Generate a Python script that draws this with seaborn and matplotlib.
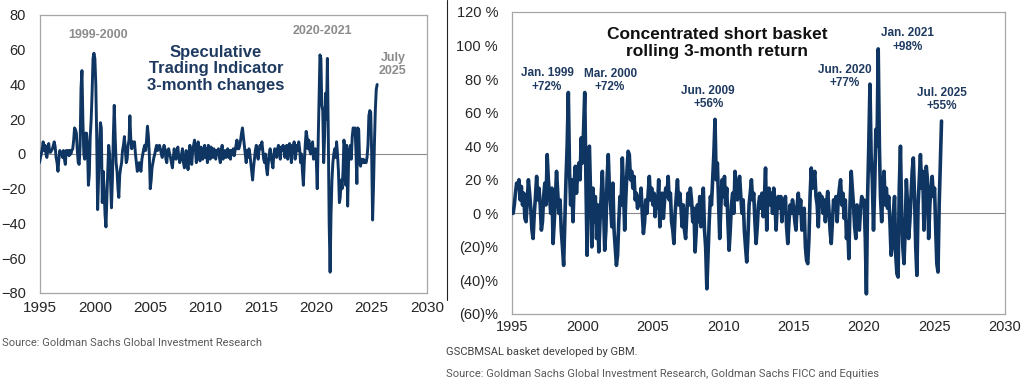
import matplotlib
matplotlib.use('Agg')
from matplotlib import pyplot as plt
from matplotlib.lines import Line2D
from matplotlib.ticker import FuncFormatter
import pandas as pd
import seaborn as sns

# Speculative Trading Indicator, 3-month changes (monthly, Jan 1995 - Jul 2025)
spec_changes = [
    -5, -2, 0, 3, 7, 2, 5, 0, -2, 4, 6, 1,            # 1995
    1, 2, 3, 5, 7, 4, -2, -5, -10, -3, 2, 0,          # 1996
    1, -2, 2, -3, -6, 2, 0, 2, -1, 2, 0, 2,           # 1997
    3, 8, 15, 14, 12, 2, -5, -6, 5, 38, 48, 20,       # 1998
    0, -3, 12, 12, 5, -18, -12, 10, 20, 35, 55, 58,   # 1999
    55, 40, 10, -32, -15, 5, 18, 15, -28, -10, -20, -35,  # 2000
    -42, -25, -10, 5, 0, -15, -31, -15, 10, 28, 10, -5,   # 2001
    -10, -20, -25, -12, -8, -5, 2, 5, 10, 3, -5, -3,  # 2002
    5, 8, 22, 8, 3, 7, 5, 7, 0, -5, -10, -8,          # 2003
    -5, -8, -10, -3, 0, 3, 5, 2, 8, 16, 10, 0,        # 2004
    -20, -15, -8, -5, -2, 0, 3, 5, 2, 4, 5, 3,        # 2005
    0, -2, 2, 5, 3, -3, -5, 2, 3, 0, -2, -5,          # 2006
    -8, -2, 3, 0, -3, 2, 4, -2, -5, -3, 0, 3,         # 2007
    -5, -8, -3, 2, -5, -9, -3, 5, -2, -6, 2, 5,       # 2008
    8, 2, -5, 3, 7, 0, -4, 4, 2, -3, 2, 5,            # 2009
    -2, 3, -5, 5, 2, -3, 4, 0, -2, 3, 1, -3,          # 2010
    2, 0, 3, -2, -5, 2, 5, -3, 0, 2, -2, 0,           # 2011
    3, -2, 2, -3, 2, 0, 3, -1, 2, 5, 8, 3,            # 2012
    3, 5, 8, 12, 15, 10, 5, 0, -5, 2, -2, 3,          # 2013
    0, -5, -10, -15, -8, -3, 2, 5, 0, -3, 2, 5,       # 2014
    3, 7, 2, -3, -5, 0, -8, -12, -5, 0, 3, -2,        # 2015
    -5, -8, 0, 3, 2, -2, 3, 5, 0, -3, 4, 2,           # 2016
    5, 3, -2, 2, 5, -3, 3, 6, 2, -5, 5, 3,            # 2017
    7, -3, 0, 5, 2, 7, 3, -5, 0, -10, -18, -5,        # 2018
    5, 13, 10, 3, 8, 2, 0, 5, 7, -3, 2, 3,            # 2019
    -3, -20, 5, 30, 57, 55, 28, 25, -5, 10, 35, 20,   # 2020
    55, 10, -40, -68, -35, -15, -5, 0, 3, -2, 7, 0,   # 2021
    -10, -28, -25, -15, -20, -10, 8, 3, -18, 5, -30, -5,  # 2022
    2, 5, -3, 10, 15, 14, 15, 2, -17, 15, 14, -5,     # 2023
    -7, -3, -5, -3, -5, -4, -5, -2, 5, 22, 25, 24,    # 2024
    0, -38, -20, 5, 25, 37, 40,                       # 2025
]

# Concentrated short basket, rolling 3-month return in % (monthly)
short_returns = [
    0, 0, 5, 12, 18, 15, 20, 8, 16, 5, 12, -3,        # 1995
    -5, 8, 20, 12, 3, -10, -15, 0, 10, 22, 8, 15,     # 1996
    5, -10, -5, 10, 18, 5, 35, 20, 10, 0, 15, -18,    # 1997
    -5, 10, 25, 12, 0, 8, -10, -20, -31, -5, 20, 40,  # 1998
    72, 25, 5, 20, -5, 18, 28, 12, 25, 30, 20, 45,    # 1999
    30, 50, 72, 20, -25, 38, 40, 10, -20, 15, -5, 10, # 2000
    -15, 5, -23, -5, 10, 25, 5, -22, -10, 20, 35, 15, # 2001
    5, -8, 18, -10, -20, -31, -25, -5, 10, 5, 33, 15, # 2002
    -10, 10, 25, 37, 35, 20, 25, 15, 22, 8, 12, 3,    # 2003
    10, 5, 15, 0, -12, -5, 8, 0, 12, 22, 8, 15,       # 2004
    5, 12, -2, 10, 3, 20, -8, 5, 12, -3, 8, 15,       # 2005
    10, 22, 8, 12, -5, -10, -18, 0, 10, 20, 5, 12,    # 2006
    3, -8, 5, -10, -15, 0, 12, 5, 15, 8, -5, 3,       # 2007
    -23, -10, 5, -5, 10, -8, 3, 15, -10, -20, -45, -25,  # 2008
    -5, 10, 5, 20, 35, 56, 20, 30, 8, -15, 5, 20,     # 2009
    10, 22, 5, 15, -5, -22, -10, 5, 12, 0, 25, 15,    # 2010
    8, 18, 22, 10, 0, 8, -10, -20, -29, -15, 5, 12,   # 2011
    20, 8, 12, -5, -18, -8, 5, 10, 3, 12, -2, 8,      # 2012
    27, -10, 10, 15, 5, 12, 0, 15, 8, -10, 5, 10,     # 2013
    3, 10, -5, 8, 0, 10, -8, -18, -5, 5, 0, 8,        # 2014
    3, -5, -10, 5, 12, 0, 8, -10, -5, 3, -20, -28,    # 2015
    -30, -15, 10, 27, 15, 20, 25, 10, 5, -8, 12, 5,   # 2016
    10, 0, 8, -5, 5, 13, 3, -10, -18, -5, 8, 3,       # 2017
    10, -5, 8, 15, 20, 5, 12, -3, 8, -15, -5, -27,    # 2018
    5, 25, 15, 5, -8, -15, 5, -5, -10, 3, 10, 5,      # 2019
    8, -15, -48, 10, 40, 77, 35, 20, -10, 15, 50, 40, # 2020
    98, 40, 10, -5, 15, 25, 5, 15, 3, 10, -5, -25,    # 2021
    -20, 0, 10, -25, -36, -38, 15, 40, 0, -20, -30, -10,  # 2022
    20, 5, -15, -5, 10, 25, 33, 10, -20, -37, 5, 20,  # 2023
    35, 15, 25, -10, 10, 28, 20, -15, 5, 15, 22, 10,  # 2024
    15, -10, -30, -35, 5, 30, 55,                     # 2025
]

year_ticks = [1995, 2000, 2005, 2010, 2015, 2020, 2025, 2030]
left_yticks = [-80, -60, -40, -20, 0, 20, 40, 60, 80]
right_yticks = [-60, -40, -20, 0, 20, 40, 60, 80, 100, 120]

peak_labels = [
    ('Jan. 1999\n+72%', 0.071, 0.775),
    ('Mar. 2000\n+72%', 0.199, 0.773),
    ('Jun. 2009\n+56%', 0.398, 0.717),
    ('Jun. 2020\n+77%', 0.675, 0.786),
    ('Jan. 2021\n+98%', 0.803, 0.907),
    ('Jul. 2025\n+55%', 0.872, 0.710),
]

spec_df = pd.DataFrame({
    'date': pd.date_range('1995-01-01', periods=len(spec_changes), freq='MS'),
    'value': spec_changes,
})
short_df = pd.DataFrame({
    'date': pd.date_range('1995-01-01', periods=len(short_returns), freq='MS'),
    'value': short_returns,
})

navy = '#0f3562'
frame = '#a6a6a6'

sns.set_theme(style='white')
plt.rcParams['font.family'] = ['Liberation Sans', 'DejaVu Sans']

fig = plt.figure(figsize=(10.24, 3.84), dpi=100)
ax1 = fig.add_axes([0.0386, 0.237, 0.3784, 0.724])
ax2 = fig.add_axes([0.5, 0.1823, 0.4814, 0.7865])

tick_dates = [pd.Timestamp(f'{y}-01-01') for y in year_ticks]

for ax in (ax1, ax2):
    ax.axhline(0, color='#8c8c8c', lw=0.8, zorder=1)
    ax.set_xlim(tick_dates[0], tick_dates[-1])
    ax.set_xticks(tick_dates)
    ax.set_xticklabels([str(y) for y in year_ticks])
    for s in ax.spines.values():
        s.set_color(frame)
        s.set_linewidth(0.9)
    ax.tick_params(length=0, colors='#262626')

# left: speculative trading indicator
sns.lineplot(data=spec_df, x='date', y='value', ax=ax1, color=navy, linewidth=2.1, zorder=3)
ax1.set_ylim(-80, 80)
ax1.set_yticks(left_yticks)
ax1.tick_params(axis='y', labelsize=10.5, pad=10)
ax1.tick_params(axis='x', labelsize=11, pad=6)
ax1.set_xlabel('')
ax1.set_ylabel('')

ax1.text(0.455, 0.806, 'Speculative\nTrading Indicator\n3-month changes', transform=ax1.transAxes,
         ha='center', va='center', fontsize=12, fontweight='bold', color='#1f3a60', linespacing=1.1)
ax1.text(0.151, 0.928, '1999-2000', transform=ax1.transAxes, ha='center', va='center',
         fontsize=9, fontweight='bold', color='#8c8c8c')
ax1.text(0.729, 0.942, '2020-2021', transform=ax1.transAxes, ha='center', va='center',
         fontsize=9, fontweight='bold', color='#8c8c8c')
ax1.text(0.912, 0.822, 'July\n2025', transform=ax1.transAxes, ha='center', va='center',
         fontsize=9, fontweight='bold', color='#8c8c8c', linespacing=1.15)

# right: concentrated short basket
sns.lineplot(data=short_df, x='date', y='value', ax=ax2, color=navy, linewidth=2.6, zorder=3)
ax2.set_ylim(-60, 120)
ax2.set_yticks(right_yticks)
ax2.yaxis.set_major_formatter(FuncFormatter(
    lambda v, p: f'{int(v)} %' if v >= 0 else f'({int(-v)})%'))
ax2.tick_params(axis='y', labelsize=10.5, pad=10)
ax2.tick_params(axis='x', labelsize=10.5, pad=4)
ax2.set_xlabel('')
ax2.set_ylabel('')

ax2.text(0.416, 0.897, 'Concentrated short basket\nrolling 3-month return', transform=ax2.transAxes,
         ha='center', va='center', fontsize=12.5, fontweight='bold', color='#111111', linespacing=1.1)
for txt, fx, fy in peak_labels:
    ax2.text(fx, fy, txt, transform=ax2.transAxes, ha='center', va='center',
             fontsize=8.5, fontweight='bold', color='#1f3a60', linespacing=1.15)

# footnotes and the divider between the two pictures
fig.text(0.002, 0.107, 'Source: Goldman Sachs Global Investment Research', fontsize=8,
         color='#595959', family=['Roboto', 'DejaVu Sans'], va='center')
fig.text(0.4355, 0.083, 'GSCBMSAL basket developed by GBM.', fontsize=8,
         color='#404040', family=['Roboto', 'DejaVu Sans'], va='center')
fig.text(0.4355, 0.026, 'Source: Goldman Sachs Global Investment Research, Goldman Sachs FICC and Equities',
         fontsize=8, color='#595959', family=['Roboto', 'DejaVu Sans'], va='center')
fig.add_artist(Line2D([447 / 1024, 447 / 1024], [1 - 300 / 384, 1.0], color='#222222', lw=0.8))

fig.savefig('out.png', dpi=100, facecolor='white')
